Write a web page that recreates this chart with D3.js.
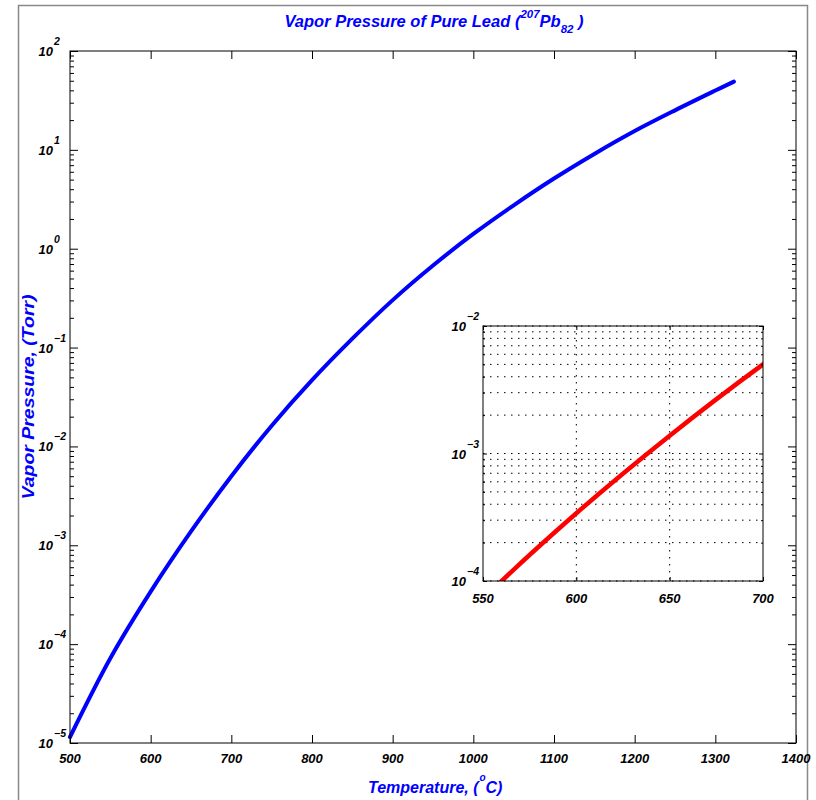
<!DOCTYPE html>
<html>
<head>
<meta charset="utf-8">
<script src="https://cdn.jsdelivr.net/npm/d3@7"></script>
<style>
  body { margin: 0; background: #fff; }
  text { font-family: "Liberation Sans", Arial, sans-serif; font-weight: bold; font-style: italic; }
</style>
</head>
<body>
<script>
// temperature (deg C) and vapor pressure (Torr)
var temps = [500, 550, 600, 650, 700, 750, 800, 850, 900, 950, 1000, 1050, 1100, 1150, 1200, 1250, 1300, 1323];
var pressures = [1.15e-5, 7.2e-5, 3.4e-4, 1.38e-3, 5.0e-3, 0.0162, 0.0468, 0.123, 0.302, 0.676, 1.41, 2.75, 5.13, 9.1, 15.5, 25.1, 39.8, 49];

var xTicks = [500, 600, 700, 800, 900, 1000, 1100, 1200, 1300, 1400];
var yExponents = [2, 1, 0, -1, -2, -3, -4, -5];
var insetXTicks = [550, 600, 650, 700];
var insetYExponents = [-2, -3, -4];

var data = temps.map(function (t, i) { return { t: t, p: pressures[i] }; });

var width = 816, height = 800;
var svg = d3.select('body').append('svg').attr('width', width).attr('height', height);

// outer frame (gray)
svg.append('path')
   .attr('d', 'M18.5,800 V5.5 H807.5 V800')
   .attr('fill', 'none').attr('stroke', '#888').attr('stroke-width', 1.5);

var main = { left: 70, right: 796, top: 51, bottom: 743 };
var x = d3.scaleLinear().domain([500, 1400]).range([main.left, main.right]);
var y = d3.scaleLog().domain([1e-5, 1e2]).range([main.bottom, main.top]);

function superLabel(g, value, exp, xr, yb, size, supSize) {
  g.append('text').attr('x', xr).attr('y', yb).attr('text-anchor', 'end')
   .attr('font-size', size).text(value);
  g.append('text').attr('x', xr + 1).attr('y', yb - 11).attr('font-size', supSize)
   .text(exp < 0 ? '\u2212' + (-exp) : String(exp));
}

function drawAxes(g, xs, ys, box, majLen, minLen, xTickVals, exps, xLabelDy, fs) {
  var minors = ys.ticks().filter(function (v) {
    return Math.abs(Math.log10(v) - Math.round(Math.log10(v))) > 1e-6;
  });
  var majors = exps.map(function (e) { return Math.pow(10, e); });

  // left & right ticks
  g.append('g').attr('transform', 'translate(' + box.left + ',0)')
   .call(d3.axisLeft(ys).tickValues(minors).tickSize(-minLen).tickFormat(''));
  g.append('g').attr('transform', 'translate(' + box.left + ',0)')
   .call(d3.axisLeft(ys).tickValues(majors).tickSize(-majLen).tickFormat(''));
  g.append('g').attr('transform', 'translate(' + box.right + ',0)')
   .call(d3.axisRight(ys).tickValues(minors).tickSize(-minLen).tickFormat(''));
  g.append('g').attr('transform', 'translate(' + box.right + ',0)')
   .call(d3.axisRight(ys).tickValues(majors).tickSize(-majLen).tickFormat(''));
  // bottom & top ticks
  g.append('g').attr('transform', 'translate(0,' + box.bottom + ')')
   .call(d3.axisBottom(xs).tickValues(xTickVals).tickSize(-majLen).tickFormat(''));
  g.append('g').attr('transform', 'translate(0,' + box.top + ')')
   .call(d3.axisTop(xs).tickValues(xTickVals).tickSize(-majLen).tickFormat(''));

  g.selectAll('.domain').remove();
  g.selectAll('.tick line').attr('stroke', '#000');

  g.append('rect').attr('x', box.left).attr('y', box.top)
   .attr('width', box.right - box.left).attr('height', box.bottom - box.top)
   .attr('fill', 'none').attr('stroke', '#000').attr('stroke-width', 1);

  // tick labels
  xTickVals.forEach(function (v) {
    g.append('text').attr('x', xs(v)).attr('y', box.bottom + xLabelDy)
     .attr('text-anchor', 'middle').attr('font-size', fs).text(v);
  });
  exps.forEach(function (e) {
    superLabel(g, '10', e, box.left - 17, ys(Math.pow(10, e)) + 5, fs, fs - 2.5);
  });
}

var line = d3.line().x(function (d) { return x(d.t); }).y(function (d) { return y(d.p); })
             .curve(d3.curveCatmullRom);

var gMain = svg.append('g');
gMain.append('path').datum(data).attr('d', line)
     .attr('fill', 'none').attr('stroke', '#0000ff').attr('stroke-width', 4)
     .attr('stroke-linecap', 'round');
drawAxes(gMain, x, y, main, 8, 4, xTicks, yExponents, 20, 13);

// title
var title = svg.append('text').attr('x', 434).attr('y', 27).attr('text-anchor', 'middle')
               .attr('fill', '#0000ff').attr('font-size', 16.5);
title.append('tspan').text('Vapor Pressure of Pure Lead (');
title.append('tspan').attr('dy', -9).attr('font-size', 11.5).text('207');
title.append('tspan').attr('dy', 9).text('Pb');
title.append('tspan').attr('dy', 6).attr('font-size', 11.5).text('82');
title.append('tspan').attr('dy', -6).text(' )');

// axis labels
var xl1 = svg.append('text').attr('x', 368).attr('y', 793)
   .attr('fill', '#0000ff').attr('font-size', 16).text('Temperature, (');
var xEnd = 368 + xl1.node().getComputedTextLength();
svg.append('text').attr('x', xEnd + 1).attr('y', 781)
   .attr('fill', '#0000ff').attr('font-size', 10).text('o');
svg.append('text').attr('x', xEnd + 7).attr('y', 793)
   .attr('fill', '#0000ff').attr('font-size', 16).text('C)');

svg.append('text').attr('transform', 'translate(34,397) rotate(-90)')
   .attr('text-anchor', 'middle').attr('fill', '#0000ff').attr('font-size', 17)
   .attr('textLength', 205).attr('lengthAdjust', 'spacingAndGlyphs')
   .text('Vapor Pressure, (Torr)');

// inset
var inset = { left: 483, right: 763, top: 326, bottom: 581 };
var xi = d3.scaleLinear().domain([550, 700]).range([inset.left, inset.right]);
var yi = d3.scaleLog().domain([1e-4, 1e-2]).range([inset.bottom, inset.top]);

var gIn = svg.append('g');
gIn.append('rect').attr('x', inset.left).attr('y', inset.top)
   .attr('width', inset.right - inset.left).attr('height', inset.bottom - inset.top)
   .attr('fill', '#fff');

// dotted grid
gIn.append('g').selectAll('line').data(yi.ticks()).enter().append('line')
   .attr('x1', inset.left).attr('x2', inset.right)
   .attr('y1', function (d) { return yi(d); }).attr('y2', function (d) { return yi(d); })
   .attr('stroke', '#000').attr('stroke-width', 1).attr('stroke-dasharray', '1.5,5.5');
gIn.append('g').selectAll('line').data([600, 650]).enter().append('line')
   .attr('y1', inset.top).attr('y2', inset.bottom)
   .attr('x1', function (d) { return xi(d); }).attr('x2', function (d) { return xi(d); })
   .attr('stroke', '#000').attr('stroke-width', 1).attr('stroke-dasharray', '1.5,5.5');

svg.append('clipPath').attr('id', 'insetClip').append('rect')
   .attr('x', inset.left).attr('y', inset.top)
   .attr('width', inset.right - inset.left).attr('height', inset.bottom - inset.top);

var lineIn = d3.line().x(function (d) { return xi(d.t); }).y(function (d) { return yi(d.p); })
               .curve(d3.curveCatmullRom);
gIn.append('path').datum(data).attr('d', lineIn).attr('clip-path', 'url(#insetClip)')
   .attr('fill', 'none').attr('stroke', '#ff0000').attr('stroke-width', 4.5);

drawAxes(gIn, xi, yi, inset, 4, 2, insetXTicks, insetYExponents, 22, 13);
</script>
</body>
</html>
